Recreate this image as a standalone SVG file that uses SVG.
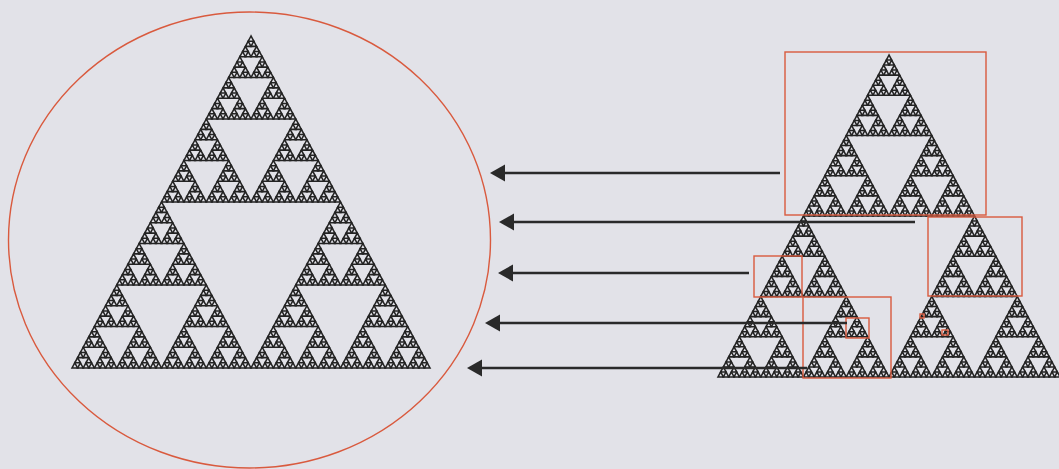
<svg xmlns="http://www.w3.org/2000/svg" xmlns:xlink="http://www.w3.org/1999/xlink" width="1059" height="469" viewBox="0 0 1059 469">
<style>
.tri{fill:none;stroke:#232323;stroke-width:1.55;stroke-linejoin:miter}
.red{fill:none;stroke:#d95a3e;stroke-width:1.4}
.arr{stroke:#2a2a2a;stroke-width:2.6;fill:none}
</style>
<defs>
<marker id="ah" markerUnits="userSpaceOnUse" markerWidth="16" markerHeight="18" refX="5" refY="8.5" orient="auto" viewBox="0 0 16 18">
<path d="M0,0 L15,8.5 L0,17 Z" fill="#2a2a2a"/>
</marker>
<polygon id="s0" class="tri" vector-effect="non-scaling-stroke" points="0.5,0 0,1 1,1"/>
<g id="s1"><use xlink:href="#s0" transform="translate(0.25,0) scale(0.5)"/><use xlink:href="#s0" transform="translate(0,0.5) scale(0.5)"/><use xlink:href="#s0" transform="translate(0.5,0.5) scale(0.5)"/></g>
<g id="s2"><use xlink:href="#s1" transform="translate(0.25,0) scale(0.5)"/><use xlink:href="#s1" transform="translate(0,0.5) scale(0.5)"/><use xlink:href="#s1" transform="translate(0.5,0.5) scale(0.5)"/></g>
<g id="s3"><use xlink:href="#s2" transform="translate(0.25,0) scale(0.5)"/><use xlink:href="#s2" transform="translate(0,0.5) scale(0.5)"/><use xlink:href="#s2" transform="translate(0.5,0.5) scale(0.5)"/></g>
<g id="s4"><use xlink:href="#s3" transform="translate(0.25,0) scale(0.5)"/><use xlink:href="#s3" transform="translate(0,0.5) scale(0.5)"/><use xlink:href="#s3" transform="translate(0.5,0.5) scale(0.5)"/></g>
<g id="s5"><use xlink:href="#s4" transform="translate(0.25,0) scale(0.5)"/><use xlink:href="#s4" transform="translate(0,0.5) scale(0.5)"/><use xlink:href="#s4" transform="translate(0.5,0.5) scale(0.5)"/></g>
<g id="s6"><use xlink:href="#s5" transform="translate(0.25,0) scale(0.5)"/><use xlink:href="#s5" transform="translate(0,0.5) scale(0.5)"/><use xlink:href="#s5" transform="translate(0.5,0.5) scale(0.5)"/></g>
</defs>
<rect width="1059" height="469" fill="#e2e2e8"/>
<g id="circle-view">
<ellipse class="red" cx="249.5" cy="240" rx="241" ry="228"/>
<use xlink:href="#s6" transform="translate(72,36) scale(358,332)"/>
</g>
<g id="fractal-right">
<use xlink:href="#s6" transform="translate(718,55) scale(342,322)"/>
</g>
<g id="zoom-boxes">
<rect class="red" x="785" y="52" width="201" height="163"/>
<rect class="red" x="928" y="217" width="94" height="79"/>
<rect class="red" x="754" y="256" width="48" height="41"/>
<rect class="red" x="803" y="297" width="88" height="81"/>
<rect class="red" x="846" y="318" width="23" height="20"/>
<rect class="red" x="920" y="314" width="4" height="4"/>
<rect class="red" x="942" y="330" width="6" height="5"/>
</g>
<g id="connectors">
<line class="arr" x1="780" y1="173" x2="500" y2="173" marker-end="url(#ah)"/>
<line class="arr" x1="915" y1="222" x2="509" y2="222" marker-end="url(#ah)"/>
<line class="arr" x1="749" y1="273" x2="508" y2="273" marker-end="url(#ah)"/>
<line class="arr" x1="847" y1="323" x2="495" y2="323" marker-end="url(#ah)"/>
<line class="arr" x1="807" y1="368" x2="477" y2="368" marker-end="url(#ah)"/>
</g>
</svg>
